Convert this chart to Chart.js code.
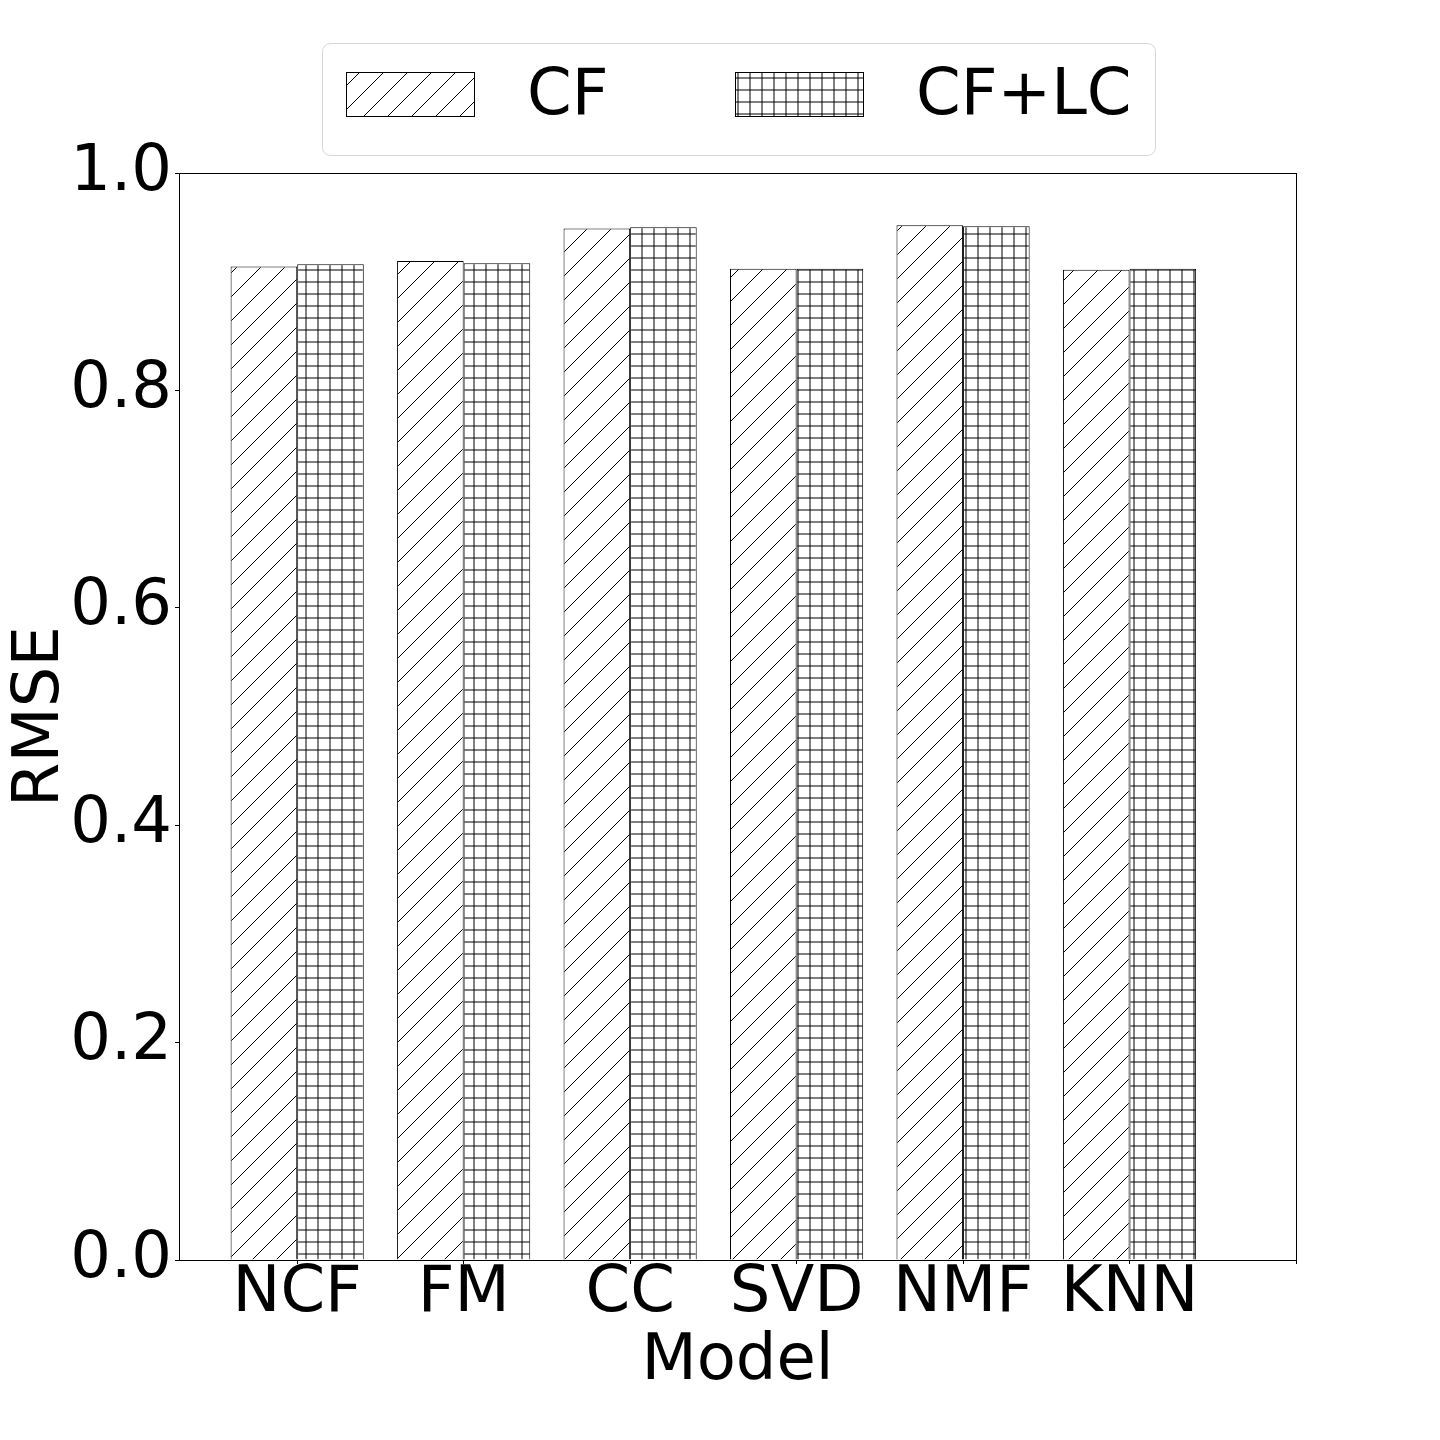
<!DOCTYPE html>
<html>
<head>
<meta charset="utf-8">
<script src="https://cdn.jsdelivr.net/npm/chart.js@4.4.0/dist/chart.umd.min.js"></script>
<style>
html, body { margin: 0; padding: 0; background: #fff; }
#wrap { width: 1440px; height: 1440px; }
</style>
</head>
<body>
<div id="wrap"><canvas id="chart" width="1440" height="1440"></canvas></div>
<script>
const models = ["NCF", "FM", "CC", "SVD", "NMF", "KNN"];
const cfValues = [0.914, 0.919, 0.949, 0.912, 0.952, 0.911];
const cfLcValues = [0.916, 0.917, 0.950, 0.912, 0.951, 0.912];
const yTicks = [0.0, 0.2, 0.4, 0.6, 0.8, 1.0];
const seriesNames = ["CF", "CF+LC"];

const FONT = "DejaVu Sans";
const canvas = document.getElementById("chart");
const ctx = canvas.getContext("2d");

function diagHatch() {
    const c = document.createElement("canvas");
    c.width = 24; c.height = 24;
    const g = c.getContext("2d");
    g.fillStyle = "#fff";
    g.fillRect(0, 0, 24, 24);
    g.strokeStyle = "#000";
    g.lineWidth = 1;
    g.beginPath();
    g.moveTo(0, 24); g.lineTo(24, 0);
    g.moveTo(-4, 4); g.lineTo(4, -4);
    g.moveTo(20, 28); g.lineTo(28, 20);
    g.stroke();
    return ctx.createPattern(c, "repeat");
}

function gridHatch() {
    const c = document.createElement("canvas");
    c.width = 12; c.height = 12;
    const g = c.getContext("2d");
    g.fillStyle = "#fff";
    g.fillRect(0, 0, 12, 12);
    g.fillStyle = "rgba(0,0,0,0.5)";
    g.fillRect(5, 0, 2, 12);
    g.fillRect(0, 5, 12, 2);
    return ctx.createPattern(c, "repeat");
}

const patterns = [diagHatch(), gridHatch()];

// spines on top and right + framed legend
const framePlugin = {
    id: "frame",
    afterDraw(chart) {
        const a = chart.chartArea;
        const c = chart.ctx;
        c.save();
        c.strokeStyle = "#000";
        c.lineWidth = 1;
        c.strokeRect(Math.round(a.left) + 0.5, Math.round(a.top) + 0.5,
            Math.round(a.right - a.left), Math.round(a.bottom - a.top));

        // legend
        c.beginPath();
        c.roundRect(322.5, 43.5, 833, 112, 8);
        c.fillStyle = "#fff";
        c.fill();
        c.strokeStyle = "#d6d6d6";
        c.stroke();
        const items = [{ x: 346, tx: 527 }, { x: 735, tx: 916 }];
        items.forEach((it, i) => {
            c.fillStyle = chart.data.datasets[i].backgroundColor;
            c.fillRect(it.x, 72, 128, 44);
            c.strokeStyle = "#000";
            c.strokeRect(it.x + 0.5, 72.5, 128, 44);
            c.fillStyle = "#000";
            c.font = "64px '" + FONT + "'";
            c.textAlign = "left";
            c.textBaseline = "middle";
            c.fillText(chart.data.datasets[i].label, it.tx, 97);
        });
        c.restore();
    }
};

new Chart(canvas, {
    type: "bar",
    data: {
        datasets: [
            {
                label: seriesNames[0],
                data: cfValues.map((v, i) => ({ x: i, y: v })),
                backgroundColor: patterns[0],
                borderColor: "#000",
                borderWidth: 1,
                categoryPercentage: 0.8,
                barPercentage: 1.0
            },
            {
                label: seriesNames[1],
                data: cfLcValues.map((v, i) => ({ x: i, y: v })),
                backgroundColor: patterns[1],
                borderColor: "#000",
                borderWidth: 1,
                categoryPercentage: 0.8,
                barPercentage: 1.0
            }
        ]
    },
    options: {
        responsive: false,
        animation: false,
        layout: { padding: { top: 173, right: 144, left: 0, bottom: 0 } },
        plugins: {
            legend: { display: false },
            tooltip: { enabled: false }
        },
        scales: {
            x: {
                type: "linear",
                offset: false,
                min: -0.71,
                max: 6,
                afterBuildTicks: s => { s.ticks = [0, 1, 2, 3, 4, 5, 6].map(v => ({ value: v })); },
                afterFit: s => { s.height = 180; s.paddingLeft = 0; s.paddingRight = 0; },
                ticks: {
                    autoSkip: false,
                    maxRotation: 0,
                    color: "#000",
                    font: { family: FONT, size: 64 },
                    padding: -8,
                    callback: v => models[v] ?? ""
                },
                grid: { offset: false, drawOnChartArea: false, drawTicks: true, tickLength: 4, tickColor: "#000" },
                border: { color: "#000", width: 1 },
                title: {
                    display: true, text: "Model", color: "#000",
                    font: { family: FONT, size: 64 },
                    padding: { top: 0, bottom: 39 }
                }
            },
            y: {
                min: 0,
                max: 1,
                afterBuildTicks: s => { s.ticks = yTicks.map(v => ({ value: v })); },
                afterFit: s => { s.width = 179; s.paddingTop = 0; s.paddingBottom = 0; },
                ticks: {
                    color: "#000",
                    font: { family: FONT, size: 64 },
                    padding: 3,
                    callback: v => v.toFixed(1)
                },
                grid: { offset: false, drawOnChartArea: false, drawTicks: true, tickLength: 4, tickColor: "#000" },
                border: { color: "#000", width: 1 },
                title: {
                    display: true, text: "RMSE", color: "#000",
                    font: { family: FONT, size: 64 },
                    padding: { top: 3, bottom: 0 }
                }
            }
        }
    },
    plugins: [framePlugin]
});
</script>
</body>
</html>
